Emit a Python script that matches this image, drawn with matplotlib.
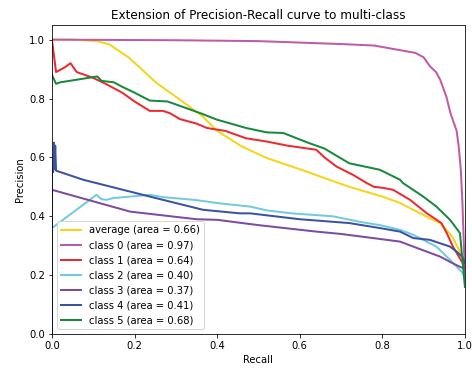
import numpy as np
import matplotlib
matplotlib.use("Agg")
import matplotlib.pyplot as plt

# recall / precision points
avg_r = [0.0, 0.05, 0.11, 0.14, 0.185, 0.213, 0.253, 0.31, 0.366, 0.40, 0.46, 0.52, 0.60, 0.64, 0.72, 0.80, 0.843, 0.875, 0.92, 0.94, 0.97, 0.995, 1.0]
avg_p = [1.0, 1.0, 0.995, 0.983, 0.94, 0.905, 0.853, 0.796, 0.738, 0.69, 0.637, 0.598, 0.56, 0.54, 0.50, 0.467, 0.445, 0.422, 0.39, 0.377, 0.33, 0.26, 0.23]

c0_r = [0.0, 0.3, 0.5, 0.6, 0.7, 0.78, 0.82, 0.86, 0.88, 0.90, 0.915, 0.93, 0.94, 0.955, 0.965, 0.98, 0.985, 0.99, 0.994, 1.0]
c0_p = [1.0, 0.998, 0.995, 0.99, 0.985, 0.98, 0.97, 0.96, 0.955, 0.94, 0.91, 0.89, 0.864, 0.807, 0.75, 0.69, 0.637, 0.558, 0.445, 0.2]

c1_r = [0.0, 0.01, 0.03, 0.045, 0.06, 0.10, 0.13, 0.17, 0.20, 0.237, 0.269, 0.286, 0.31, 0.35, 0.375, 0.42, 0.47, 0.52, 0.57, 0.64, 0.66, 0.689, 0.73, 0.762, 0.78, 0.80, 0.826, 0.867, 0.907, 0.943, 0.956, 0.971, 0.995, 1.0]
c1_p = [1.0, 0.89, 0.905, 0.92, 0.89, 0.87, 0.85, 0.82, 0.79, 0.758, 0.758, 0.75, 0.73, 0.715, 0.70, 0.69, 0.665, 0.654, 0.64, 0.626, 0.60, 0.569, 0.54, 0.513, 0.50, 0.497, 0.49, 0.456, 0.411, 0.377, 0.343, 0.297, 0.24, 0.22]

c2_r = [0.0, 0.108, 0.12, 0.132, 0.15, 0.237, 0.27, 0.35, 0.40, 0.48, 0.52, 0.58, 0.68, 0.75, 0.794, 0.843, 0.875, 0.931, 0.964, 0.995, 1.0]
c2_p = [0.36, 0.473, 0.458, 0.456, 0.462, 0.473, 0.465, 0.455, 0.445, 0.433, 0.42, 0.41, 0.40, 0.38, 0.37, 0.354, 0.337, 0.297, 0.252, 0.207, 0.19]

c3_r = [0.0, 0.189, 0.35, 0.40, 0.50, 0.64, 0.70, 0.794, 0.843, 0.875, 0.94, 0.971, 0.995, 1.0]
c3_p = [0.49, 0.416, 0.39, 0.388, 0.37, 0.348, 0.34, 0.323, 0.314, 0.297, 0.263, 0.24, 0.224, 0.22]

c4_r = [0.0, 0.0, 0.003, 0.005, 0.006, 0.008, 0.01, 0.076, 0.237, 0.366, 0.455, 0.48, 0.60, 0.72, 0.794, 0.843, 0.875, 0.915, 0.964, 0.98, 0.995, 1.0]
c4_p = [0.0, 0.55, 0.55, 0.65, 0.56, 0.64, 0.555, 0.524, 0.467, 0.422, 0.41, 0.41, 0.39, 0.377, 0.36, 0.348, 0.326, 0.32, 0.297, 0.28, 0.26, 0.24]

c5_r = [0.0, 0.01, 0.02, 0.11, 0.12, 0.15, 0.17, 0.20, 0.237, 0.28, 0.32, 0.36, 0.40, 0.47, 0.52, 0.56, 0.62, 0.66, 0.72, 0.794, 0.843, 0.85, 0.899, 0.931, 0.964, 0.988, 1.0]
c5_p = [0.88, 0.85, 0.855, 0.875, 0.86, 0.855, 0.84, 0.82, 0.793, 0.79, 0.77, 0.75, 0.728, 0.70, 0.685, 0.683, 0.65, 0.63, 0.58, 0.558, 0.524, 0.513, 0.467, 0.433, 0.388, 0.343, 0.16]

labels = ["average (area = 0.66)", "class 0 (area = 0.97)", "class 1 (area = 0.64)",
          "class 2 (area = 0.40)", "class 3 (area = 0.37)", "class 4 (area = 0.41)",
          "class 5 (area = 0.68)"]
colors = ["#f7d417", "#c05aa8", "#ec2a2e", "#72cbdd", "#7d4b9f", "#3a52a3", "#168a3c"]

curves = [(avg_r, avg_p), (c0_r, c0_p), (c1_r, c1_p), (c2_r, c2_p),
          (c3_r, c3_p), (c4_r, c4_p), (c5_r, c5_p)]

fig = plt.figure(figsize=(472 / 72, 372 / 72), dpi=72)
ax = fig.add_axes([0.110, 0.102, 0.875, 0.831])
for (r, p), lab, c in zip(curves, labels, colors):
    ax.plot(r, p, color=c, lw=2, label=lab)

ax.set_xlim(0.0, 1.0)
ax.set_ylim(0.0, 1.05)
ax.set_xlabel("Recall")
ax.set_ylabel("Precision")
ax.set_title("Extension of Precision-Recall curve to multi-class")
ax.legend(loc="lower left")
fig.savefig("out.png", dpi=72)
